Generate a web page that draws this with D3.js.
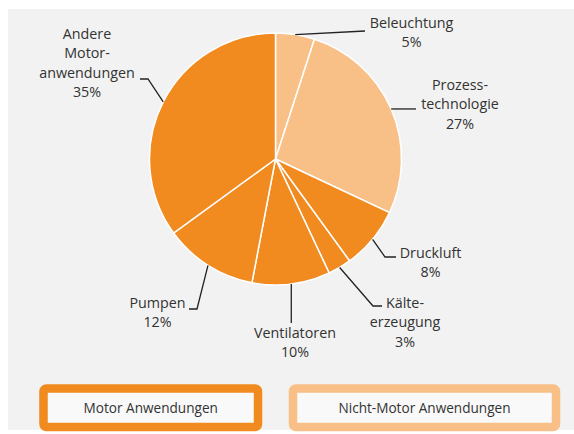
<!DOCTYPE html>
<html lang="de">
	<head>
		<meta charset="utf-8">
		<title>Stromverbrauch Industrie</title>
		<script src="https://d3js.org/d3.v7.min.js"></script>
		<style>
			body { margin: 0; background: #fff; }
			text { font-family: "Open Sans", sans-serif; fill: #333; }
		</style>
	</head>
	<body>
		<div id="chart"></div>
		<script>
// data (clockwise from 12 o'clock)
var categories = ["Beleuchtung", "Prozess-\ntechnologie", "Druckluft", "Kälte-\nerzeugung",
	"Ventilatoren", "Pumpen", "Andere\nMotor-\nanwendungen"];
var shares = [5, 27, 8, 3, 10, 12, 35];
var groups = ["nonmotor", "nonmotor", "motor", "motor", "motor", "motor", "motor"];
var legendLabels = ["Motor Anwendungen", "Nicht-Motor Anwendungen"];
var legendKeys = ["motor", "nonmotor"];

var W = 574, H = 434;
var cx = 275.5, cy = 159, r = 126;
var lineH = 19.3;

var color = d3.scaleOrdinal()
	.domain(["motor", "nonmotor"])
	.range(["#f18a1f", "#f8bf86"]);

// label layout: text centre x, first baseline, leader points after the slice edge
var layout = [
	{x: 411.5, y: 28, pts: [[365, 31]]},
	{x: 460, y: 90, pts: [[416, null]]},
	{x: 430.5, y: 258, pts: [[385, 257], [396, 257]]},
	{x: 405, y: 308, pts: [[373, 306], [382, 306]]},
	{x: 295, y: 338, pts: [[null, 323]]},
	{x: 157.5, y: 308, pts: [[197, 309], [189, 309]]},
	{x: 87, y: 39, pts: [[148, 79], [140, 79]]}
];

var svg = d3.select("#chart").append("svg")
	.attr("width", W)
	.attr("height", H);

// grey panel
svg.append("rect")
	.attr("x", 8).attr("y", 9)
	.attr("width", W - 8).attr("height", 421)
	.attr("fill", "#f2f2f2");

var pie = d3.pie().sort(null).value(function(d) { return d; });
var arcs = pie(shares);
var arc = d3.arc().innerRadius(0).outerRadius(r);
var edge = d3.arc().innerRadius(r).outerRadius(r);

var g = svg.append("g").attr("transform", "translate(" + cx + "," + cy + ")");

g.selectAll("path.slice")
	.data(arcs)
	.enter().append("path")
	.attr("class", "slice")
	.attr("d", arc)
	.attr("fill", function(d, i) { return color(groups[i]); })
	.attr("stroke", "#fff")
	.attr("stroke-width", 1.5);

// leader lines
arcs.forEach(function(d, i) {
	var c = edge.centroid(d);
	var start = [cx + c[0], cy + c[1]];
	var pts = [start];
	layout[i].pts.forEach(function(p) {
		pts.push([p[0] == null ? start[0] : p[0], p[1] == null ? start[1] : p[1]]);
	});
	svg.append("path")
		.attr("d", d3.line()(pts))
		.attr("fill", "none")
		.attr("stroke", "#222")
		.attr("stroke-width", 1.3);
});

// labels
categories.forEach(function(name, i) {
	var lines = name.split("\n").concat([shares[i] + "%"]);
	var t = svg.append("text")
		.attr("text-anchor", "middle")
		.style("font-size", "14.3px");
	lines.forEach(function(l, j) {
		t.append("tspan")
			.attr("x", layout[i].x)
			.attr("y", layout[i].y + j * lineH)
			.text(l);
	});
});

// legend boxes
var legendX = [43.5, 293];
var legendW = [214.5, 263];
legendKeys.forEach(function(k, i) {
	svg.append("rect")
		.attr("x", legendX[i]).attr("y", 388.5)
		.attr("width", legendW[i]).attr("height", 38.5)
		.attr("rx", 3)
		.attr("fill", "#f9f9f9")
		.attr("stroke", color(k))
		.attr("stroke-width", 8.5);
	svg.append("text")
		.attr("x", legendX[i] + legendW[i] / 2)
		.attr("y", 412.5)
		.attr("text-anchor", "middle")
		.style("font-size", "13.6px")
		.text(legendLabels[i]);
});
		</script>
	</body>
</html>
